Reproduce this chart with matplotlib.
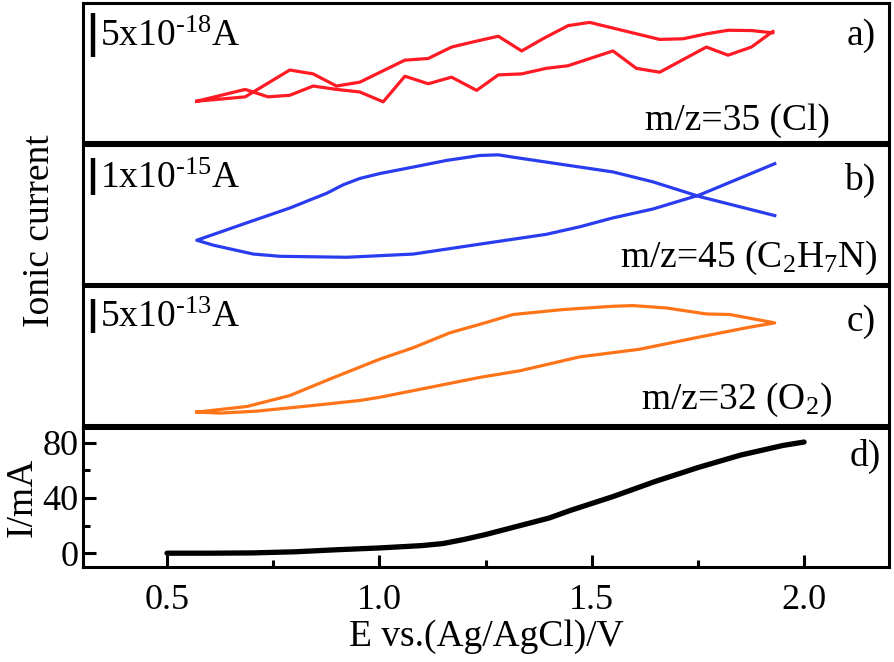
import matplotlib
matplotlib.use("Agg")
import matplotlib.pyplot as plt
import matplotlib.transforms as mtransforms
from matplotlib.ticker import MultipleLocator, FormatStrFormatter

plt.rcParams['font.family'] = ['Liberation Serif', 'DejaVu Serif']
plt.rcParams['mathtext.fontset'] = 'custom'
plt.rcParams['mathtext.rm'] = 'Liberation Serif'
plt.rcParams['mathtext.default'] = 'regular'

# panel a: m/z=35 (Cl), units of 1e-18 A (closed loop, forward then back)
cl_v = [0.570, 0.684, 0.738, 0.789, 0.844, 0.899, 0.954, 1.009, 1.060, 1.115, 1.170,
        1.229, 1.280, 1.335, 1.393, 1.444, 1.550, 1.605, 1.660, 1.770, 1.821, 1.876,
        1.927, 1.927, 1.876, 1.821, 1.770, 1.715, 1.660, 1.495, 1.444, 1.385, 1.335,
        1.280, 1.229, 1.170, 1.115, 1.060, 1.009, 0.954, 0.899, 0.844, 0.789, 0.684, 0.570]
cl_i = [4.59, 5.92, 5.08, 5.26, 6.30, 5.92, 5.63, 4.52, 7.41, 6.56, 7.30,
        5.81, 7.56, 7.67, 8.30, 8.59, 10.26, 8.30, 7.86, 10.70, 9.78, 10.70,
        12.48, 12.30, 12.56, 12.59, 12.19, 11.63, 11.56, 13.48, 13.11, 11.63, 10.26,
        11.92, 11.37, 10.70, 9.41, 9.22, 8.03, 6.74, 6.30, 7.67, 8.11, 5.08, 4.59]

# panel b: m/z=45 (C2H7N), units of 1e-15 A
amine_v = [1.931, 1.754, 1.644, 1.550, 1.393, 1.315, 1.280, 1.236, 1.158, 1.080, 1.001,
           0.954, 0.915, 0.876, 0.789, 0.688, 0.570, 0.609, 0.703, 0.766, 0.923, 1.080,
           1.236, 1.393, 1.472, 1.550, 1.644, 1.754, 1.931]
amine_i = [1.816, 2.324, 2.718, 2.982, 3.245, 3.376, 3.439, 3.421, 3.289, 3.113, 2.939,
           2.808, 2.640, 2.413, 2.018, 1.624, 1.158, 1.026, 0.789, 0.729, 0.703, 0.789,
           1.053, 1.316, 1.518, 1.755, 1.992, 2.368, 3.203]

# panel c: m/z=32 (O2), units of 1e-13 A
o2_v = [0.570, 0.688, 0.789, 0.884, 1.001, 1.080, 1.166, 1.236, 1.315, 1.432, 1.550,
        1.597, 1.676, 1.770, 1.825, 1.931, 1.864, 1.746, 1.613, 1.472, 1.331, 1.236,
        1.119, 1.001, 0.954, 0.844, 0.711, 0.625, 0.570]
o2_i = [1.96, 2.79, 4.41, 6.87, 9.81, 11.51, 13.72, 14.96, 16.43, 17.16, 17.65,
        17.75, 17.40, 16.51, 16.43, 15.19, 14.46, 12.99, 11.28, 10.15, 8.09, 7.10,
        5.63, 4.16, 3.68, 2.94, 2.10, 1.81, 1.96]

# panel d: current, mA
cur_v = [0.50, 0.60, 0.70, 0.80, 0.90, 1.00, 1.10, 1.15, 1.20, 1.25, 1.30, 1.35, 1.40,
         1.45, 1.50, 1.55, 1.60, 1.65, 1.70, 1.75, 1.80, 1.85, 1.90, 1.95, 2.00]
cur_i = [0.0, 0.0, 0.2, 1.0, 2.5, 3.8, 5.5, 7.0, 10.0, 13.5, 17.5, 21.5, 25.5,
         31.0, 36.0, 41.0, 46.5, 52.0, 57.0, 62.0, 66.5, 71.0, 74.5, 78.0, 80.5]

fig = plt.figure(figsize=(8.95, 6.62), dpi=100)
gs = fig.add_gridspec(4, 1, left=0.0927, right=0.9933, top=0.9955, bottom=0.1435,
                      hspace=0.02)
axes = [fig.add_subplot(gs[i]) for i in range(4)]

fs = 27
panels = [
    (cl_v, cl_i, '#ff1a24', (0, 15.67), 5, r'5x10$^{\text{-18}}$A', 9.56, 'a)', 0.702,
     'm/z=35 (Cl)', 0.927, 0.087),
    (amine_v, amine_i, '#2a3cf0', (0, 3.71), 1, r'1x10$^{\text{-15}}$A', 2.36, 'b)', 0.674,
     r'm/z=45 (C$_2$H$_7$N)', 0.986, 0.118),
    (o2_v, o2_i, '#ff7418', (0, 20.6), 5, r'5x10$^{\text{-13}}$A', 13.7, 'c)', 0.679,
     r'm/z=32 (O$_2$)', 0.929, 0.119),
]

for ax, (xv, yv, col, ylim, bar, bartxt, barbot, tag, tagy, lab, labx, laby) in zip(axes, panels):
    ax.plot(xv, yv, color=col, lw=2.3)
    ax.set_ylim(*ylim)
    trans = mtransforms.blended_transform_factory(ax.transAxes, ax.transData)
    ax.plot([0.0124, 0.0124], [barbot, barbot + bar], color='black', lw=3.2,
            solid_capstyle='butt', transform=trans)
    ax.text(0.021, barbot + bar * 0.45, bartxt, transform=trans, fontsize=fs,
            va='center', ha='left')
    ax.text(0.983, tagy, tag, transform=ax.transAxes, fontsize=fs, ha='right', va='baseline')
    ax.text(labx, laby, lab, transform=ax.transAxes, fontsize=fs, ha='right', va='baseline')
    ax.set_yticks([])
    ax.tick_params(axis='x', which='both', bottom=False, labelbottom=False)

axd = axes[3]
axd.plot(cur_v, cur_i, color='black', lw=3.8, solid_capstyle='round')
axd.set_ylim(-10, 90.6)
axd.set_yticks([0, 40, 80])
axd.yaxis.set_minor_locator(MultipleLocator(20))
axd.xaxis.set_major_locator(MultipleLocator(0.5))
axd.xaxis.set_minor_locator(MultipleLocator(0.25))
axd.xaxis.set_major_formatter(FormatStrFormatter('%.1f'))
axd.tick_params(axis='both', which='major', direction='in', length=9, width=2.2,
                labelsize=26)
axd.tick_params(axis='both', which='minor', direction='in', length=5, width=2.2)
axd.tick_params(axis='x', which='both', pad=12)
axd.tick_params(axis='y', which='both', pad=3)
axd.set_xlabel('E vs.(Ag/AgCl)/V', fontsize=27, labelpad=2)
axd.set_ylabel('I/mA', fontsize=27, labelpad=2)
axd.text(0.990, 0.730, 'd)', transform=axd.transAxes, fontsize=fs, ha='right', va='baseline')

for ax in axes:
    ax.set_xlim(0.302, 2.2)
    for s in ax.spines.values():
        s.set_linewidth(2.2)

fig.text(40 / 895, 1 - 231 / 662, 'Ionic current', rotation=90, fontsize=27,
         ha='center', va='center')

fig.savefig('out.png', dpi=100)
